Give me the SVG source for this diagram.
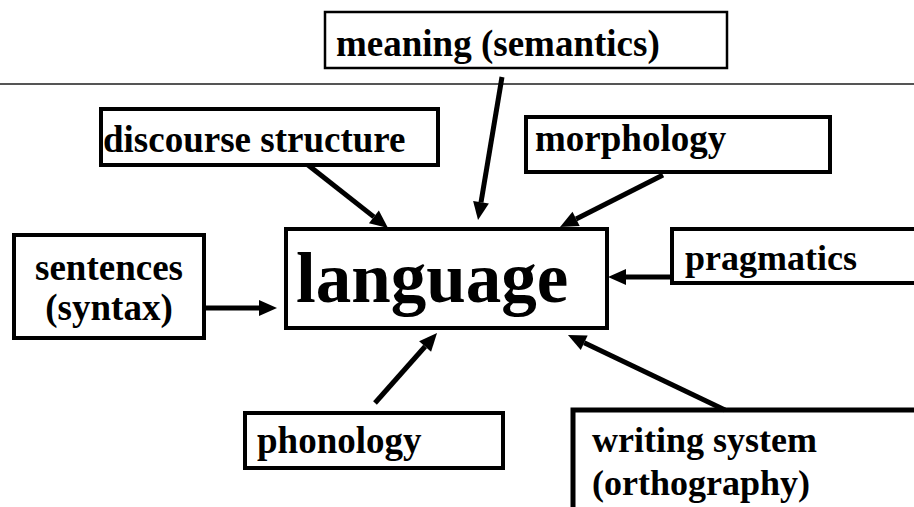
<svg xmlns="http://www.w3.org/2000/svg" width="914" height="507" viewBox="0 0 914 507">
<style>
.box{fill:#fff;stroke:#000;stroke-width:4}
.lbl{font-family:"Liberation Serif","Times New Roman",serif;font-weight:bold;font-size:37px;fill:#000}
.conn{stroke:#000;stroke-width:5;fill:none;marker-end:url(#ah)}
</style>
<defs>
<marker id="ah" markerUnits="userSpaceOnUse" markerWidth="18" markerHeight="16" refX="0" refY="8" orient="auto" overflow="visible">
<path d="M0,0 L18,8 L0,16 z" fill="#000"/>
</marker>
</defs>
<rect width="914" height="507" fill="#fff"/>
<line x1="0" y1="84" x2="914" y2="84" stroke="#555" stroke-width="2"/>
<g id="meaning">
<rect class="box" x="325" y="12" width="402" height="56" style="stroke-width:2.5"/>
<text class="lbl" x="336" y="56">meaning (semantics)</text>
</g>
<g id="discourse">
<rect class="box" x="101" y="109" width="337" height="56"/>
<text class="lbl" x="103" y="152">discourse structure</text>
</g>
<g id="morphology">
<rect class="box" x="526" y="117" width="304" height="55"/>
<text class="lbl" x="535" y="151">morphology</text>
</g>
<g id="sentences">
<rect class="box" x="14" y="235" width="190" height="103"/>
<text class="lbl" x="109" y="280" text-anchor="middle">sentences</text>
<text class="lbl" x="109" y="320" text-anchor="middle">(syntax)</text>
</g>
<g id="language">
<rect class="box" x="286" y="229" width="321" height="99"/>
<text class="lbl" x="296" y="302" style="font-size:71px">language</text>
</g>
<g id="pragmatics">
<rect class="box" x="672" y="229" width="250" height="54"/>
<text class="lbl" x="685" y="270" style="font-size:36px">pragmatics</text>
</g>
<g id="phonology">
<rect class="box" x="245" y="413" width="258" height="55"/>
<text class="lbl" x="257" y="453">phonology</text>
</g>
<g id="writing">
<rect class="box" x="573" y="410" width="350" height="110" style="stroke-width:5"/>
<text class="lbl" x="592" y="452" style="font-size:36px">writing system</text>
<text class="lbl" x="592" y="495" style="font-size:36px">(orthography)</text>
</g>
<g id="connectors">
<line class="conn" x1="204" y1="308" x2="259" y2="308"/>
<line class="conn" x1="308" y1="165" x2="373.9" y2="216.9"/>
<line class="conn" x1="502" y1="77" x2="481" y2="202.3"/>
<line class="conn" x1="663" y1="175" x2="576.1" y2="218.9"/>
<line class="conn" x1="672" y1="277" x2="626" y2="277"/>
<line class="conn" x1="375" y1="403" x2="425.1" y2="346.5"/>
<line class="conn" x1="725" y1="410" x2="584.2" y2="342.8"/>
</g>
</svg>
